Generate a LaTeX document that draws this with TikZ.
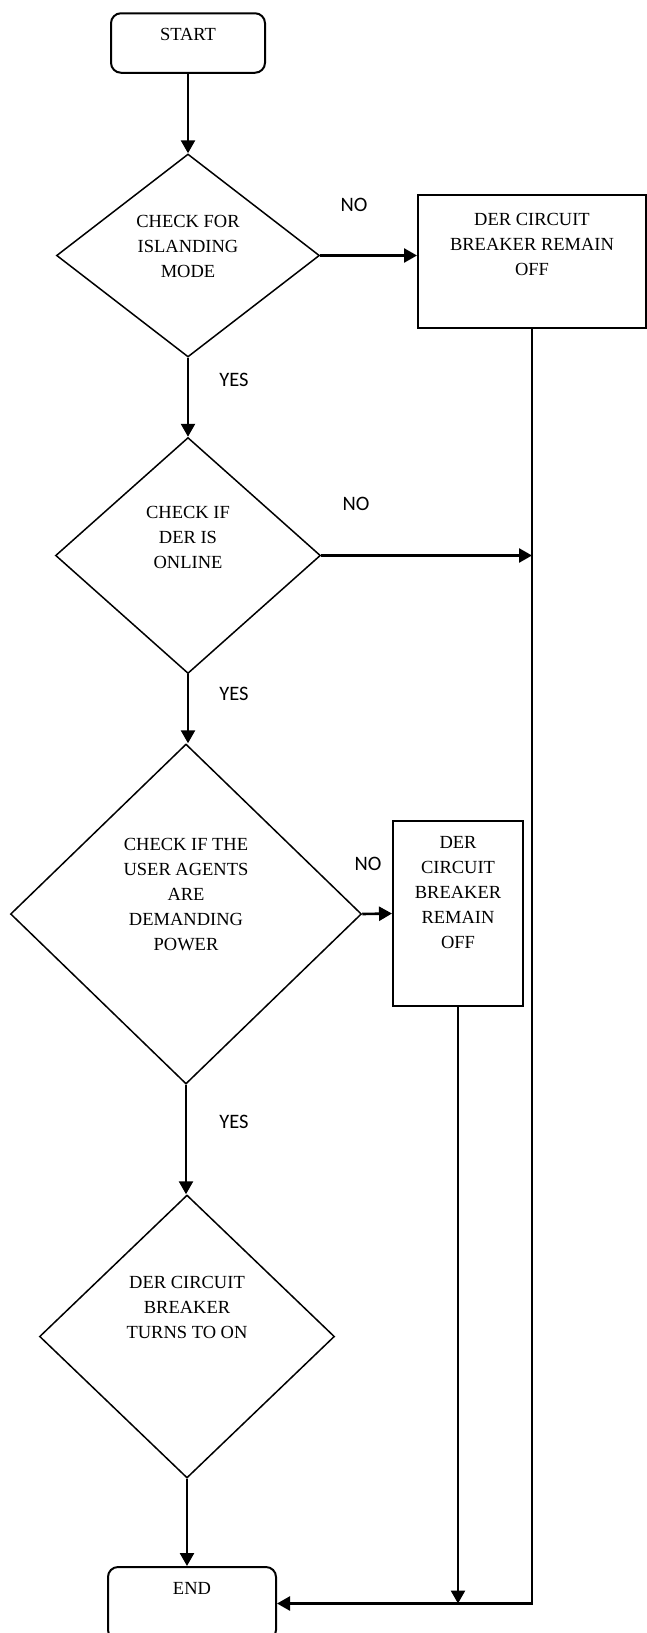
\documentclass[tikz,border=0pt]{standalone}
\usepackage{fontspec}
\setmainfont{Liberation Serif}
\newfontfamily\answerfont{Carlito}
\usetikzlibrary{shapes.geometric, arrows.meta}

\begin{document}
\begin{tikzpicture}[x=1pt, y=-1pt, >={Triangle[length=13pt, width=14pt]},
    txt/.style={font=\fontsize{18.5}{25}\selectfont, align=center, inner sep=0pt},
    terminal/.style={draw, rectangle, rounded corners=10pt, line width=2pt, inner sep=0pt},
    decision/.style={draw, diamond, line width=1.5pt, inner sep=0pt},
    process/.style={draw, rectangle, line width=2pt, inner sep=0pt},
    answer/.style={font=\answerfont\fontsize{20.5}{24}\selectfont, inner sep=0pt},
    line/.style={line width=2.6pt}]
    \useasboundingbox (0,0) rectangle (647,1633);

    \node (start) [terminal, minimum width=154pt, minimum height=59.5pt,
        label={[txt, yshift=9pt]center:START}] at (188,43) {};
    \node (d1) [decision, minimum width=263pt, minimum height=203pt,
        label={[txt, yshift=9.5pt]center:{CHECK FOR\\ISLANDING\\MODE}}] at (188,255.5) {};
    \node (box1) [process, minimum width=228pt, minimum height=133pt,
        label={[txt, yshift=17.5pt]center:{DER CIRCUIT\\BREAKER REMAIN\\OFF}}] at (532,261.5) {};
    \node (d2) [decision, minimum width=265pt, minimum height=236pt,
        label={[txt, yshift=18.5pt]center:{CHECK IF\\DER IS\\ONLINE}}] at (188,555.5) {};
    \node (d3) [decision, minimum width=351pt, minimum height=340pt,
        label={[txt, yshift=19pt]center:{CHECK IF THE\\USER AGENTS\\ARE\\DEMANDING\\POWER}}] at (186,914) {};
    \node (box2) [process, minimum width=130pt, minimum height=185pt,
        label={[txt, yshift=21pt]center:{DER\\CIRCUIT\\BREAKER\\REMAIN\\OFF}}] at (458,913.5) {};
    \node (d4) [decision, minimum width=295pt, minimum height=283pt,
        label={[txt, yshift=29.5pt]center:{DER CIRCUIT\\BREAKER\\TURNS TO ON}}] at (187,1336.5) {};
    \node (finish) [terminal, minimum width=168pt, minimum height=73pt,
        label={[txt, yshift=15.5pt]center:END}] at (192,1603.5) {};

    % yes / no labels
    \node (no1) [answer] at (354,205) {NO};
    \node (no2) [answer] at (356,504) {NO};
    \node (no3) [answer] at (368,864) {NO};
    \node (yes1) [answer] at (234,380) {YES};
    \node (yes2) [answer] at (234,694) {YES};
    \node (yes3) [answer] at (234,1122) {YES};

    \draw[line, ->] (start.south) -- (start.south |- d1.north);
    \draw[line, ->] (d1.south) -- (d1.south |- d2.north);
    \draw[line, ->] (d2.south) -- (d2.south |- d3.north);
    \draw[line, ->] (d3.south) -- (d3.south |- d4.north);
    \draw[line, ->] (d4.south) -- (d4.south |- finish.north);

    \draw[line, ->] (d1.east) -- (d1.east -| box1.west);
    \draw[line, ->] (d2.east) -- (d2.east -| box1.south);
    \draw[line, ->] (d3.east) -- (box2.west);
    \draw[line, ->] (box2.south) -- (box2.south |- finish.east);
    \draw[line, ->] (box1.south) |- (finish.east);
\end{tikzpicture}
\end{document}
